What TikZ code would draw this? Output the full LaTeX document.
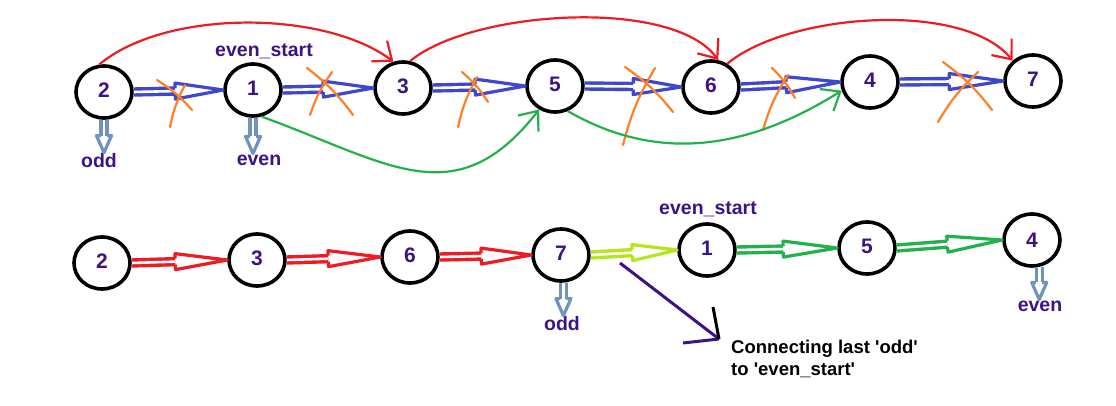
\documentclass[tikz,border=0pt]{standalone}
\usepackage{fontspec}
\setmainfont{Liberation Sans}
\usetikzlibrary{calc,arrows.meta,shapes.geometric}

\definecolor{paintblue}{HTML}{3F48CC}
\definecolor{paintred}{HTML}{ED1C24}
\definecolor{paintorange}{HTML}{FF7F27}
\definecolor{paintgreen}{HTML}{22B14C}
\definecolor{paintlime}{HTML}{B5E61D}
\definecolor{paintsteel}{HTML}{7092BE}
\definecolor{labelpurple}{HTML}{3D1287}

\tikzset{
  listnode/.style={ellipse,draw=black,line width=3.6pt,minimum width=56pt,minimum height=52pt,inner sep=0pt,text=labelpurple,font=\bfseries\fontsize{21}{22}\selectfont},
  ptrlabel/.style={text=labelpurple,font=\bfseries\fontsize{19.5}{20}\selectfont,inner sep=1pt},
  cross/.style={draw=paintorange,line width=2.2pt,line cap=round},
  linkcurve/.style={line width=2.2pt,-{Straight Barb[length=16pt,width=26pt]}}
}

% hollow double arrow: colour, start, end, head length, head half width
\newcommand{\paintarrow}[5]{%
  \coordinate (pa) at (#2);
  \coordinate (pb) at (#3);
  \coordinate (pm) at ($(pb)!#4!(pa)$);
  \fill[white] ($(pm)!#5!90:(pb)$) -- (pb) -- ($(pm)!#5!-90:(pb)$) -- cycle;
  \path[draw=#1,line width=3.4pt,double=white,double distance=2.6pt] (pa) -- (pm);
  \path[draw=#1,line width=3.2pt,line join=round] ($(pm)!3pt!90:(pb)$) -- ($(pm)!#5!90:(pb)$) -- (pb) -- ($(pm)!#5!-90:(pb)$) -- ($(pm)!3pt!-90:(pb)$);
}

\begin{document}
\begin{tikzpicture}[x=1pt,y=1pt]
\useasboundingbox (0,0) rectangle (1116,405);

\node[listnode] (t2) at (104,313) {\raisebox{3pt}{2}};
\node[listnode] (t1) at (253,315) {\raisebox{3pt}{1}};
\node[listnode] (t3) at (403,317) {\raisebox{3pt}{3}};
\node[listnode] (t5) at (555,319) {\raisebox{3pt}{5}};
\node[listnode] (t6) at (711,318) {\raisebox{3pt}{6}};
\node[listnode] (t4) at (870,323) {\raisebox{3pt}{4}};
\node[listnode] (t7) at (1033,324) {\raisebox{3pt}{7}};

\node[listnode] (b2) at (102,142) {\raisebox{3pt}{2}};
\node[listnode] (b3) at (257,145) {\raisebox{3pt}{3}};
\node[listnode] (b6) at (410,148) {\raisebox{3pt}{6}};
\node[listnode] (b7) at (561,150) {\raisebox{3pt}{7}};
\node[listnode] (b1) at (707,155) {\raisebox{3pt}{1}};
\node[listnode] (b5) at (867,157) {\raisebox{3pt}{5}};
\node[listnode] (b4) at (1032,165) {4};

\node[ptrlabel] (startT) at (264,354) {even\_start};
\node[ptrlabel] (oddT) at (99,244) {odd};
\node[ptrlabel] (evenT) at (259,245) {even};
\node[ptrlabel] (startB) at (708,196) {even\_start};
\node[ptrlabel] (oddB) at (562,81) {odd};
\node[ptrlabel] (evenB) at (1040,99) {even};

\paintarrow{paintblue}{t2.east}{t1.west}{48pt}{8pt}
\paintarrow{paintblue}{t1.east}{t3.west}{50pt}{8pt}
\paintarrow{paintblue}{t3.east}{t5.west}{50pt}{8pt}
\paintarrow{paintblue}{t5.east}{t6.west}{48pt}{8pt}
\paintarrow{paintblue}{t6.east}{t4.west}{54pt}{8pt}
\paintarrow{paintblue}{t4.east}{t7.west}{54pt}{8pt}

\paintarrow{paintred}{b2.east}{b3.west}{52pt}{8pt}
\paintarrow{paintred}{b3.east}{b6.west}{52pt}{8pt}
\paintarrow{paintred}{b6.east}{b7.west}{50pt}{8pt}
\paintarrow{paintlime}{b7.east}{b1.west}{45pt}{8pt}
\paintarrow{paintgreen}{b1.east}{b5.west}{54pt}{8pt}
\paintarrow{paintgreen}{b5.east}{b4.west}{55pt}{8pt}

\paintarrow{paintsteel}{t2.south}{t2.south |- oddT.north}{17pt}{7.5pt}
\paintarrow{paintsteel}{t1.south}{t1.south |- evenT.north}{17pt}{7.5pt}
\paintarrow{paintsteel}{b7.-85}{b7.-85 |- oddB.north}{17pt}{7.5pt}
\paintarrow{paintsteel}{b4.-75}{b4.-75 |- evenB.north}{17pt}{7.5pt}

\path[cross] (157,325) to[bend left=8] (192,295);
\path[cross] (185,320) to[bend right=8] (170,278);
\path[cross] (307,337) to[bend left=8] (353,290);
\path[cross] (332,333) to[bend right=8] (310,290);
\path[cross] (462,333) to[bend left=8] (488,303);
\path[cross] (477,328) to[bend right=8] (458,278);
\path[cross] (625,338) to[bend left=8] (673,293);
\path[cross] (655,337) to[bend right=8] (623,260);
\path[cross] (772,337) to[bend left=8] (795,307);
\path[cross] (788,330) to[bend right=8] (763,275);
\path[cross] (943,343) to[bend left=8] (992,295);
\path[cross] (978,333) to[bend right=8] (938,283);

\path[draw=paintred,linkcurve] (t2.100) to[out=40,in=143,looseness=0.75] (t3.110);
\path[draw=paintred,linkcurve] (t3.75) to[out=40,in=126,looseness=0.65] (t6.75);
\path[draw=paintred,linkcurve] (t6.55) to[out=40,in=129,looseness=0.7] (t7.135);

\path[draw=paintgreen,linkcurve] (t1.-72) to[out=-20,in=232,looseness=1.25] (t5.-124);
\path[draw=paintgreen,linkcurve] (t5.-63) to[out=-30,in=212,looseness=1.0] (t4.-163);

\node[anchor=north west,inner sep=0pt,align=left,font=\bfseries\fontsize{18.5}{22}\selectfont] (note) at (731,65) {Connecting last \textquotesingle odd\textquotesingle\\to \textquotesingle even\_start\textquotesingle};

\coordinate (lk) at (620,142);
\coordinate (lkend) at ($(note.north west)+(-12,1)$);
\path[draw=labelpurple,line width=3pt] (lk) -- (lkend);
\path[draw=labelpurple,line width=3pt] ($(lkend)+(-36,-4)$) -- (lkend);
\path[draw=black,line width=3pt] ($(lkend)+(-6,32)$) -- (lkend);
\end{tikzpicture}
\end{document}
